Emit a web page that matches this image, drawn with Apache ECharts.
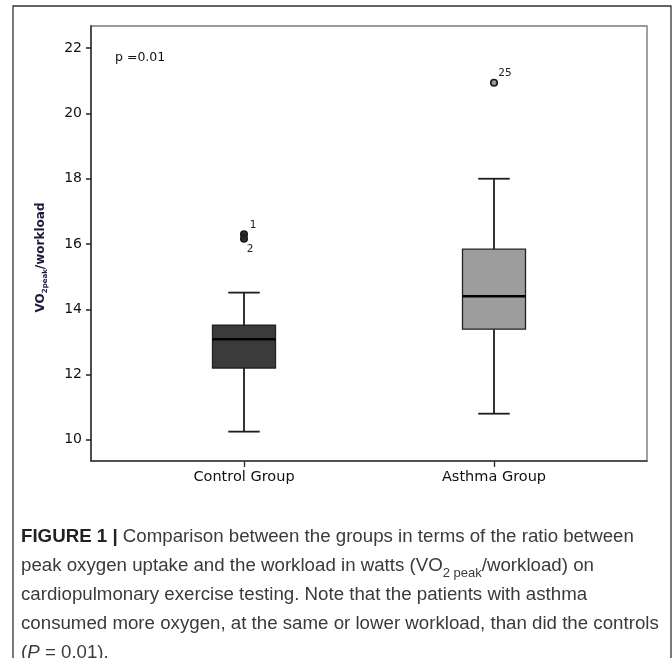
<!DOCTYPE html>
<html>
<head>
<meta charset="utf-8">
<script src="https://cdn.jsdelivr.net/npm/echarts@6/dist/echarts.min.js"></script>
<style>
html,body{margin:0;padding:0;background:#fff;}
#chart{width:672px;height:658px;}
</style>
</head>
<body>
<div id="chart"></div>
<script>
// ---- data ----
const categories = ['Control Group', 'Asthma Group'];
const whiskerLow  = [10.25, 10.80];
const q1          = [12.20, 13.39];
const median      = [13.08, 14.40];
const q3          = [13.51, 15.84];
const whiskerHigh = [14.51, 18.00];

const outlierGroup = [0, 0, 1];
const outlierValue = [16.30, 16.16, 20.94];
const outlierLabel = ['1', '2', '25'];

const yTicks = [10, 12, 14, 16, 18, 20, 22];
const yMin = 9.35, yMax = 22.68;

// ---- styles ----
const BOX_FILL = ['#3b3b3b', '#9d9d9d'];
const OUTLIER_FILL = ['#2a2a2a', '#2a2a2a', '#9a9a9a'];
const LABEL_OFFSET = [[9, -9], [6, 10], [11, -10]];

const chart = echarts.init(document.getElementById('chart'), null, {renderer: 'canvas'});

function renderItem(params, api) {
  const x = api.value(0);
  const lo = api.coord([x, api.value(1)]);
  const p1 = api.coord([x, api.value(2)]);
  const pm = api.coord([x, api.value(3)]);
  const p3 = api.coord([x, api.value(4)]);
  const hi = api.coord([x, api.value(5)]);
  const band = api.size([1, 0])[0];
  const hb = band * 0.126;   // half box width
  const hc = band * 0.063;   // half cap width
  const cx = lo[0];
  const stroke = '#1c1c1c';
  const lw = 1.8;
  return {
    type: 'group',
    children: [
      {type: 'line', shape: {x1: cx, y1: lo[1], x2: cx, y2: p1[1]}, style: {stroke: stroke, lineWidth: lw}},
      {type: 'line', shape: {x1: cx, y1: p3[1], x2: cx, y2: hi[1]}, style: {stroke: stroke, lineWidth: lw}},
      {type: 'line', shape: {x1: cx - hc, y1: lo[1], x2: cx + hc, y2: lo[1]}, style: {stroke: stroke, lineWidth: lw}},
      {type: 'line', shape: {x1: cx - hc, y1: hi[1], x2: cx + hc, y2: hi[1]}, style: {stroke: stroke, lineWidth: lw}},
      {type: 'rect', shape: {x: cx - hb, y: p3[1], width: 2 * hb, height: p1[1] - p3[1]},
        style: {fill: BOX_FILL[params.dataIndex], stroke: '#222', lineWidth: 1.3}},
      {type: 'line', shape: {x1: cx - hb, y1: pm[1], x2: cx + hb, y2: pm[1]}, style: {stroke: '#000', lineWidth: 2.4}}
    ]
  };
}

const boxData = categories.map((c, i) => [i, whiskerLow[i], q1[i], median[i], q3[i], whiskerHigh[i]]);
const outlierData = outlierValue.map((v, i) => ({
  value: [outlierGroup[i], v],
  name: outlierLabel[i],
  itemStyle: {color: OUTLIER_FILL[i]},
  label: {offset: LABEL_OFFSET[i]}
}));

const option = {
  animation: false,
  backgroundColor: '#fff',
  graphic: [
    {type: 'rect', shape: {x: 13, y: 6, width: 658, height: 700},
      style: {fill: 'none', stroke: '#333', lineWidth: 1.3}, silent: true, z: -1}
  ],
  title: [
    {
      text: 'p =0.01', left: 110, top: 46,
      textStyle: {fontFamily: 'DejaVu Sans', fontSize: 12.5, fontWeight: 'normal', color: '#111'}
    },
    {
      left: 16, top: 517,
      text: '{b|FIGURE 1 |}{n| Comparison between the groups in terms of the ratio between}\n' +
            '{n|peak oxygen uptake and the workload in watts (VO}{s|2 peak}{n|/workload) on}\n' +
            '{n|cardiopulmonary exercise testing. Note that the patients with asthma}\n' +
            '{n|consumed more oxygen, at the same or lower workload, than did the controls}\n' +
            '{n|(}{i|P}{n| = 0.01).}',
      textStyle: {
        fontWeight: 'normal',
        rich: {
          b: {fontFamily: 'Liberation Sans', fontSize: 18.7, fontWeight: 'bold', color: '#222', lineHeight: 29},
          n: {fontFamily: 'Liberation Sans', fontSize: 18.7, fontWeight: 'normal', color: '#3a3a3a', lineHeight: 29},
          i: {fontFamily: 'Liberation Sans', fontSize: 18.7, fontWeight: 'normal', fontStyle: 'italic', color: '#3a3a3a', lineHeight: 29},
          s: {fontFamily: 'Liberation Sans', fontSize: 13, fontWeight: 'normal', color: '#3a3a3a', lineHeight: 29, verticalAlign: 'bottom'}
        }
      }
    }
  ],
  grid: [
    {left: 91, top: 26, width: 556, height: 435, show: true, borderColor: '#7a7a7a', borderWidth: 1.4, backgroundColor: 'transparent'},
    {left: 119, top: 26, width: 500, height: 435, show: false}
  ],
  xAxis: [
    {
      type: 'value', gridIndex: 0, min: 0, max: 1,
      axisLine: {show: true, onZero: false, lineStyle: {color: '#3a3a3a', width: 1.6}},
      axisTick: {show: false}, axisLabel: {show: false}, splitLine: {show: false}
    },
    {
      type: 'category', gridIndex: 1, data: categories, boundaryGap: true,
      axisLine: {show: false},
      axisTick: {show: true, alignWithLabel: true, length: 6, lineStyle: {color: '#333', width: 1.4}},
      axisLabel: {fontFamily: 'DejaVu Sans', fontSize: 14.5, color: '#111', margin: 9},
      splitLine: {show: false}
    }
  ],
  yAxis: [
    {
      type: 'value', gridIndex: 0, min: yMin, max: yMax,
      name: '{a|VO}{s|2peak}{a|/workload}',
      nameLocation: 'middle', nameRotate: 90, nameGap: 42,
      nameTextStyle: {
        padding: [0, 28, 0, 0],
        rich: {
          a: {fontFamily: 'DejaVu Sans', fontSize: 12, fontWeight: 'bold', color: '#1a1a3a', lineHeight: 16},
          s: {fontFamily: 'DejaVu Sans', fontSize: 7, fontWeight: 'bold', color: '#1a1a3a', lineHeight: 16, verticalAlign: 'bottom'}
        }
      },
      axisLine: {show: true, lineStyle: {color: '#3a3a3a', width: 1.6}},
      axisTick: {show: true, length: 5, customValues: yTicks, lineStyle: {color: '#222', width: 1.5}},
      axisLabel: {customValues: yTicks, fontFamily: 'DejaVu Sans', fontSize: 14, color: '#111', margin: 9},
      splitLine: {show: false}
    },
    {
      type: 'value', gridIndex: 1, min: yMin, max: yMax, show: false
    }
  ],
  series: [
    {
      type: 'custom', xAxisIndex: 1, yAxisIndex: 1,
      renderItem: renderItem,
      encode: {x: 0, y: [1, 2, 3, 4, 5]},
      data: boxData, z: 2
    },
    {
      type: 'scatter', xAxisIndex: 1, yAxisIndex: 1,
      symbol: 'circle', symbolSize: 6.5,
      itemStyle: {borderColor: '#1c1c1c', borderWidth: 1.6, opacity: 1},
      label: {show: true, position: 'inside', formatter: '{b}', fontFamily: 'DejaVu Sans', fontSize: 10.5, color: '#222'},
      data: outlierData, z: 3
    }
  ]
};
chart.setOption(option);
</script>
</body>
</html>
